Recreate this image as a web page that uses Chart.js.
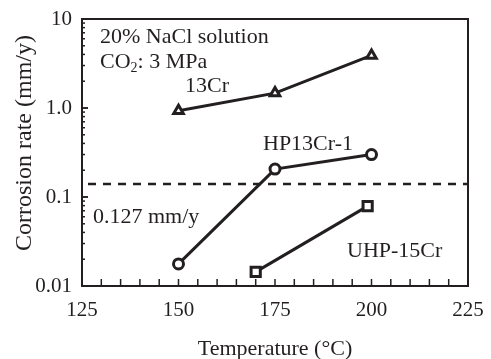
<!DOCTYPE html>
<html>
<head>
<meta charset="UTF-8">
<script src="https://cdn.jsdelivr.net/npm/chart.js"></script>
<style>
  body { margin: 0; background: #fff; }
  canvas { display: block; }
</style>
</head>
<body>
<canvas id="c" width="491" height="359"></canvas>
<script>
// data
const temps13Cr = [150, 175, 200];
const rate13Cr = [0.93, 1.47, 3.9];
const tempsHP = [150, 175, 200];
const rateHP = [0.0177, 0.206, 0.30];
const tempsUHP = [170, 199];
const rateUHP = [0.0144, 0.079];
const limitX = [125, 225];
const limitRate = [0.14, 0.14];
const xTicks = [125, 150, 175, 200, 225];
const yTicks = [0.01, 0.1, 1, 10];
const yTickLabels = ['0.01', '0.1', '1.0', '10'];

const INK = '#231f20';
const SERIF = '"Liberation Serif", "Times New Roman", serif';

function pts(xs, ys) { return xs.map((x, i) => ({ x: x, y: ys[i] })); }

const framePlugin = {
  id: 'frame',
  afterDraw(chart) {
    const { ctx, chartArea: a, scales: { x, y } } = chart;
    ctx.save();
    ctx.strokeStyle = INK;
    ctx.lineWidth = 2;
    ctx.strokeRect(a.left, a.top, a.right - a.left, a.bottom - a.top);
    // inward ticks on x, every 5 degrees
    ctx.lineWidth = 1.5;
    for (let t = 125; t <= 225; t += 5) {
      const px = x.getPixelForValue(t);
      ctx.beginPath(); ctx.moveTo(px, a.bottom); ctx.lineTo(px, a.bottom - 7); ctx.stroke();
    }
    // inward ticks on y (log minor)
    for (let d = 0.01; d < 9; d *= 10) {
      for (let m = 1; m <= 10; m++) {
        const py = y.getPixelForValue(d * m);
        const len = (m === 1 || m === 10) ? 6 : 3;
        ctx.beginPath(); ctx.moveTo(a.left, py); ctx.lineTo(a.left + len, py); ctx.stroke();
      }
    }
    // axis titles
    ctx.fillStyle = INK;
    ctx.textBaseline = 'middle';
    ctx.textAlign = 'center';
    ctx.font = '22px ' + SERIF;
    ctx.fillText('Temperature (°C)', (a.left + a.right) / 2, 349);
    ctx.save();
    ctx.translate(25, 143);
    ctx.rotate(-Math.PI / 2);
    ctx.font = '24px ' + SERIF;
    ctx.fillText('Corrosion rate (mm/y)', 0, 0);
    ctx.restore();
    // annotations
    ctx.font = '22px ' + SERIF;
    ctx.textAlign = 'left';
    ctx.fillText('20% NaCl solution', 100, 37);
    let cx = 100;
    ctx.fillText('CO', cx, 62);
    cx += ctx.measureText('CO').width;
    ctx.font = '14px ' + SERIF;
    ctx.fillText('2', cx, 68);
    cx += ctx.measureText('2').width;
    ctx.font = '22px ' + SERIF;
    ctx.fillText(': 3 MPa', cx, 62);
    ctx.textAlign = 'center';
    ctx.fillText('13Cr', 207, 86);
    ctx.textAlign = 'left';
    ctx.fillText('HP13Cr-1', 263, 144);
    ctx.fillText('0.127 mm/y', 93, 217);
    ctx.fillText('UHP-15Cr', 347, 251);
    ctx.restore();
  }
};

const common = {
  borderColor: INK,
  borderWidth: 3,
  pointBackgroundColor: '#fff',
  pointBorderColor: INK,
  pointBorderWidth: 3,
  pointRadius: 5,
  showLine: true,
  tension: 0
};

new Chart(document.getElementById('c'), {
  type: 'scatter',
  data: {
    datasets: [
      Object.assign({ label: '13Cr', data: pts(temps13Cr, rate13Cr), pointStyle: 'triangle' }, common, { pointRadius: 5.5 }),
      Object.assign({ label: 'HP13Cr-1', data: pts(tempsHP, rateHP), pointStyle: 'circle' }, common),
      Object.assign({ label: 'UHP-15Cr', data: pts(tempsUHP, rateUHP), pointStyle: 'rect' }, common, { pointRadius: 6.5 }),
      { label: 'limit', data: pts(limitX, limitRate), showLine: true, borderColor: INK, borderWidth: 2.5,
        borderDash: [8, 7], borderDashOffset: -6, pointRadius: 0 }
    ]
  },
  options: {
    responsive: false,
    animation: false,
    layout: { padding: { top: 19, right: 23, left: 0, bottom: 0 } },
    plugins: { legend: { display: false }, tooltip: { enabled: false } },
    scales: {
      x: {
        type: 'linear', min: 125, max: 225,
        afterBuildTicks: s => { s.ticks = xTicks.map(v => ({ value: v })); },
        afterFit: s => { s.height = 73; s.paddingLeft = 0; s.paddingRight = 0; },
        grid: { display: false, drawTicks: false },
        border: { display: false },
        ticks: { color: INK, font: { family: SERIF, size: 21 }, padding: 12, maxRotation: 0 }
      },
      y: {
        type: 'logarithmic', min: 0.01, max: 10,
        afterBuildTicks: s => { s.ticks = yTicks.map(v => ({ value: v })); },
        afterFit: s => { s.width = 82; s.paddingTop = 0; s.paddingBottom = 0; },
        grid: { display: false, drawTicks: false },
        border: { display: false },
        ticks: { color: INK, font: { family: SERIF, size: 21 }, padding: 10,
                 callback: v => yTickLabels[yTicks.indexOf(v)] ?? '' }
      }
    }
  },
  plugins: [framePlugin]
});
</script>
</body>
</html>
